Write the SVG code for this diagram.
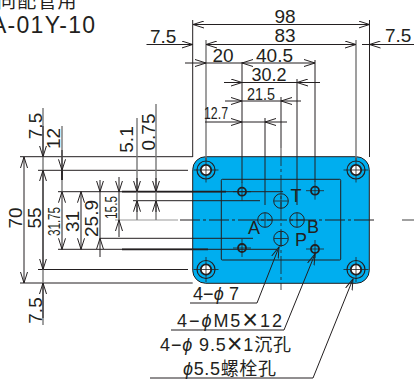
<svg xmlns="http://www.w3.org/2000/svg" width="414" height="379" viewBox="0 0 414 379">
<style>
text{font-family:"Liberation Sans","Noto Sans CJK SC",sans-serif;fill:#231f20}
.l{font-size:19px}.m{font-size:18px}.s{font-size:17px}
.x{font-size:27px;font-weight:normal}
.d{stroke:#231f20;stroke-width:1;fill:none}
.g{stroke:#777;stroke-width:1.4;fill:none}
.t{stroke:#999;stroke-width:1;fill:none}
.c{stroke:#231f20;stroke-width:.8;fill:none}
.hv{stroke:#231f20;stroke-width:1.8;fill:none}
</style>
<defs>
<marker id="a" viewBox="0 0 12 8" refX="11" refY="4" markerWidth="12" markerHeight="8" markerUnits="userSpaceOnUse" orient="auto-start-reverse"><path d="M0 .5L11 4L0 7.5" fill="none" stroke="#231f20" stroke-width="1"/></marker>
<g id="bolt"><circle r="9" fill="none" stroke="#231f20" stroke-width="1.2"/><circle r="5.2" fill="#fff" stroke="#231f20" stroke-width="1.8"/><path class="c" d="M-12.5 0H12.5M0-12.5V12.5"/></g>
<g id="small"><circle r="4" fill="none" stroke="#231f20" stroke-width="1.8"/><path class="c" d="M-9 0H9M0-9V9"/></g>
<g id="port"><circle r="7.3" fill="none" stroke="#231f20" stroke-width="1"/><path class="c" d="M-7 0H7M0-7V7"/></g>
</defs>
<text x="-3" y="8" font-size="19" letter-spacing="1.2">同配管用</text>
<text x="-9" y="33" font-size="23" textLength="104">A-01Y-10</text>
<g id="plate">
<rect x="192.7" y="156.7" width="176.6" height="126.6" rx="13" fill="#00aeef" stroke="#231f20" stroke-width="1"/>
<rect x="221.3" y="179.3" width="119.4" height="80.7" rx="1" fill="none" stroke="#231f20" stroke-width="1"/>
</g>
<g id="connectors">
<path class="d" d="M192.7 20V157M369.5 20V157"/>
<path class="g" d="M206 40V160M356 40V160"/>
<path class="d" d="M242 62V183M265 118V205M297 79V205M315 60V182M281 97V148"/>
<path class="d" d="M193 24.5H369.5" marker-start="url(#a)" marker-end="url(#a)"/>
<path class="d" d="M206 44.5H356" marker-start="url(#a)" marker-end="url(#a)"/>
<path class="d" d="M146.500 44.500H192.700" marker-end="url(#a)"/>
<path class="d" d="M362 44.500H369.500"/>
<path class="d" d="M414 44.500H369.500" marker-end="url(#a)"/>
<path class="d" d="M185 63H206" marker-end="url(#a)"/>
<path class="d" d="M206 63H242"/>
<path class="d" d="M242 63H315" marker-start="url(#a)" marker-end="url(#a)"/>
<path class="d" d="M224 82.500H242" marker-end="url(#a)"/>
<path class="d" d="M320 82.500H297" marker-end="url(#a)"/>
<path class="d" d="M242 82.500H297"/>
<path class="d" d="M225 101H242" marker-end="url(#a)"/>
<path class="d" d="M301 101H281" marker-end="url(#a)"/>
<path class="d" d="M242 101H281"/>
<path class="d" d="M205 122H242" marker-end="url(#a)"/>
<path class="d" d="M287 122H265" marker-end="url(#a)"/>
<path class="d" d="M242 122H265"/>
<path class="d" d="M20 156.700H192.700M38 170.300H188M20 283H192.700M38 269.500H188"/>
<path class="d" d="M58 191.700H283"/>
<path class="hv" d="M122 191.700H226"/>
<path class="d" d="M133 200.700H260M100 238.300H253M58 249.300H277"/>
<path class="hv" d="M122 249.300H208"/>
<path class="t" d="M115 220H178"/>
<path class="g" d="M43 108V325M62 126V192M137 118V220M156 104V220"/>
<path class="d" d="M24 157V283" marker-start="url(#a)" marker-end="url(#a)"/>
<path class="d" d="M43 126V156.700" marker-end="url(#a)"/>
<path class="d" d="M43 170.300V269.500" marker-start="url(#a)" marker-end="url(#a)"/>
<path class="d" d="M43 318V283" marker-end="url(#a)"/>
<path class="d" d="M62 150V170.300" marker-end="url(#a)"/>
<path class="hv" d="M62 170.300V180"/>
<path class="d" d="M62 191.700V249.300" marker-start="url(#a)" marker-end="url(#a)"/>
<path class="d" d="M81 191.700V249.300" marker-start="url(#a)" marker-end="url(#a)"/>
<path class="d" d="M100 180V191.700" marker-end="url(#a)"/>
<path class="d" d="M100 191.700V238.300"/>
<path class="d" d="M100 257V238.300" marker-end="url(#a)"/>
<path class="d" d="M119 177V191.700" marker-end="url(#a)"/>
<path class="d" d="M119 191.700V220"/>
<path class="d" d="M119 237V220" marker-end="url(#a)"/>
<path class="d" d="M137 178V191.700" marker-end="url(#a)"/>
<path class="d" d="M137 212V200.700" marker-end="url(#a)"/>
<path class="d" d="M156 178V191.700" marker-end="url(#a)"/>
<path class="d" d="M156 212V200.700" marker-end="url(#a)"/>
<path class="d" d="M180 220H377" stroke-dasharray="20 3 3 3"/>
<path class="g" d="M402 220H414"/>
<path class="c" d="M281 148V290" stroke-dasharray="18 3 3 3"/>
<path class="d" d="M190 303H257L279 247" marker-end="url(#a)"/>
<path class="d" d="M171 330H284L315 254" marker-end="url(#a)"/>
<path class="d" d="M150 378H313L353 279" marker-end="url(#a)"/>
</g>
<g id="holes">
<use href="#bolt" x="206" y="170"/><use href="#bolt" x="356" y="170"/><use href="#bolt" x="206" y="269.500"/><use href="#bolt" x="356" y="269.500"/>
<use href="#small" x="242" y="191.700"/><use href="#small" x="315" y="190.700"/><use href="#small" x="242" y="248"/><use href="#small" x="315" y="249"/>
<use href="#port" x="281" y="201"/><use href="#port" x="265" y="220"/><use href="#port" x="297" y="220"/><use href="#port" x="281" y="238.500"/>
</g>
<g id="labels">
<text class="l" x="150" y="42.500">7.5</text>
<text class="l" x="385" y="42">7.5</text>
<text class="l" x="285" y="22.700" text-anchor="middle">98</text>
<text class="l" x="285" y="42" text-anchor="middle">83</text>
<text class="l" x="223" y="62" text-anchor="middle">20</text>
<text class="l" x="274.500" y="62" text-anchor="middle">40.5</text>
<text class="m" x="269" y="81" text-anchor="middle">30.2</text>
<text class="s" x="261" y="99.500" text-anchor="middle" textLength="28" lengthAdjust="spacingAndGlyphs">21.5</text>
<text class="s" x="216" y="119" text-anchor="middle" textLength="24" lengthAdjust="spacingAndGlyphs">12.7</text>
<text class="m" x="290.500" y="202">T</text>
<text class="m" x="248" y="234">A</text>
<text class="m" x="307" y="232.700">B</text>
<text class="m" x="295" y="246">P</text>
<text class="l" transform="translate(41.500 126) rotate(-90)" text-anchor="middle">7.5</text>
<text class="l" transform="translate(60 138.500) rotate(-90)" text-anchor="middle">12</text>
<text class="l" transform="translate(133 139.500) rotate(-90)" text-anchor="middle">5.1</text>
<text class="l" transform="translate(155 132) rotate(-90)" text-anchor="middle">0.75</text>
<text class="l" transform="translate(22 218) rotate(-90)" text-anchor="middle">70</text>
<text class="l" transform="translate(40.700 218) rotate(-90)" text-anchor="middle">55</text>
<text class="s" transform="translate(60 221.500) rotate(-90)" text-anchor="middle" textLength="29" lengthAdjust="spacingAndGlyphs">31.75</text>
<text class="l" transform="translate(79 221.500) rotate(-90)" text-anchor="middle">31</text>
<text class="l" transform="translate(98 218.500) rotate(-90)" text-anchor="middle">25.9</text>
<text class="s" transform="translate(117 207.500) rotate(-90)" text-anchor="middle" textLength="23" lengthAdjust="spacingAndGlyphs">15.5</text>
<text class="l" transform="translate(41.500 310.500) rotate(-90)" text-anchor="middle">7.5</text>
<text class="m" x="193" y="300" textLength="46">4−<tspan font-style="italic">ϕ</tspan> 7</text>
<text class="m" x="177" y="327" textLength="105">4−<tspan font-style="italic">ϕ</tspan>M5<tspan class="x" dy="2">×</tspan><tspan dy="-2">12</tspan></text>
<text class="m" x="160" y="351" textLength="131">4−<tspan font-style="italic">ϕ</tspan> 9.5<tspan class="x" dy="2">×</tspan><tspan dy="-2">1沉孔</tspan></text>
<text class="m" x="183" y="375" textLength="93"><tspan font-style="italic">ϕ</tspan>5.5螺栓孔</text>
</g>
</svg>
